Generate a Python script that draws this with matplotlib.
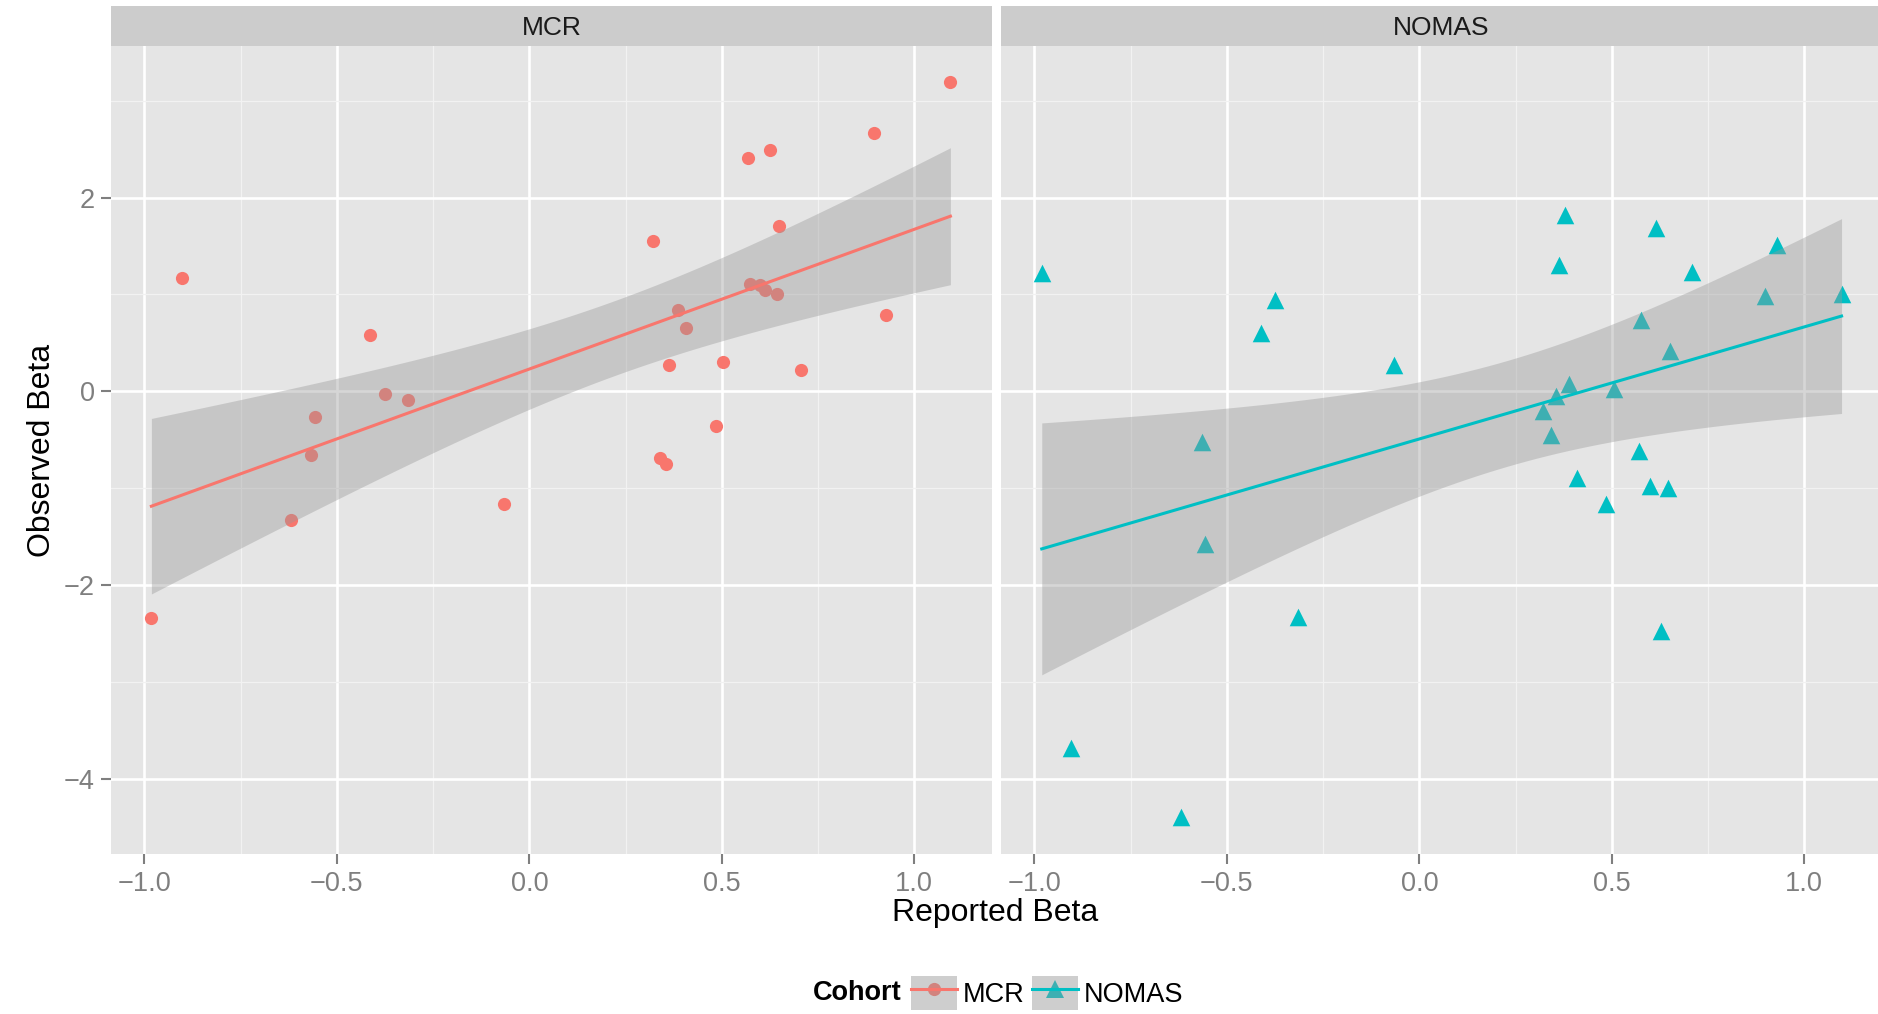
import numpy as np
import matplotlib
matplotlib.use("Agg")
import matplotlib.pyplot as plt
from matplotlib.lines import Line2D
from matplotlib.patches import Rectangle
from matplotlib.legend_handler import HandlerTuple

plt.rcParams['font.family'] = ['Liberation Sans', 'DejaVu Sans']

# reported vs observed beta
mcr_reported = [-0.982, -0.903, -0.619, -0.566, -0.557, -0.414, -0.375, -0.316, -0.067,
                0.320, 0.340, 0.354, 0.362, 0.387, 0.408, 0.484, 0.503, 0.567, 0.574,
                0.598, 0.612, 0.625, 0.644, 0.649, 0.705, 0.896, 0.927, 1.094]
mcr_observed = [-2.34, 1.17, -1.33, -0.66, -0.27, 0.58, -0.03, -0.09, -1.16,
                1.55, -0.69, -0.75, 0.27, 0.84, 0.65, -0.36, 0.30, 2.41, 1.11,
                1.10, 1.05, 2.49, 1.00, 1.71, 0.22, 2.67, 0.79, 3.19]

nomas_reported = [-0.981, -0.905, -0.620, -0.565, -0.556, -0.411, -0.374, -0.316, -0.067,
                  0.321, 0.342, 0.355, 0.363, 0.378, 0.390, 0.410, 0.485, 0.506, 0.570,
                  0.576, 0.599, 0.615, 0.629, 0.647, 0.651, 0.708, 0.898, 0.929, 1.097]
nomas_observed = [1.22, -3.69, -4.40, -0.53, -1.58, 0.60, 0.94, -2.33, 0.27,
                  -0.20, -0.45, -0.05, 1.30, 1.82, 0.07, -0.90, -1.17, 0.02, -0.62,
                  0.73, -0.98, 1.68, -2.48, -1.00, 0.42, 1.23, 0.98, 1.51, 1.00]

cohorts = ['MCR', 'NOMAS']
colors = {'MCR': '#F8766D', 'NOMAS': '#00BFC4'}
markers = {'MCR': 'o', 'NOMAS': '^'}
data = {'MCR': (mcr_reported, mcr_observed), 'NOMAS': (nomas_reported, nomas_observed)}

x_ticks = [-1.0, -0.5, 0.0, 0.5, 1.0]
y_ticks = [-4, -2, 0, 2]

try:
    from scipy import stats
    def t_crit(df):
        return stats.t.ppf(0.975, df)
except ImportError:
    def t_crit(df):
        return 2.05


def lm_band(x, y, n_out=80):
    # same thing geom_smooth(method='lm') does
    x = np.asarray(x)
    y = np.asarray(y)
    slope, icpt = np.polyfit(x, y, 1)
    xs = np.linspace(x.min(), x.max(), n_out)
    fit = icpt + slope * xs
    resid = y - (icpt + slope * x)
    n = len(x)
    s = np.sqrt(np.sum(resid ** 2) / (n - 2))
    se = s * np.sqrt(1 / n + (xs - x.mean()) ** 2 / np.sum((x - x.mean()) ** 2))
    t = t_crit(n - 2)
    return xs, fit, fit - t * se, fit + t * se


fig = plt.figure(figsize=(18.78, 10.14), dpi=100)
ax_w = 0.4687
ax_h = 0.7973
lefts = [0.0593, 0.5332]
bottom = 0.1578

all_y = mcr_observed + nomas_observed
all_x = mcr_reported + nomas_reported
yr = max(all_y) - min(all_y)
xr = max(all_x) - min(all_x)
ylim = (min(all_y) - 0.05 * yr, max(all_y) + 0.05 * yr)
xlim = (min(all_x) - 0.05 * xr, max(all_x) + 0.05 * xr)

for i, name in enumerate(cohorts):
    ax = fig.add_axes([lefts[i], bottom, ax_w, ax_h])
    ax.set_facecolor('#E5E5E5')
    for sp in ax.spines.values():
        sp.set_visible(False)
    ax.set_xlim(xlim)
    ax.set_ylim(ylim)
    ax.set_xticks(x_ticks)
    ax.set_xticks([-0.75, -0.25, 0.25, 0.75], minor=True)
    ax.set_yticks(y_ticks)
    ax.set_yticks([-3, -1, 1, 3], minor=True)
    ax.grid(which='major', color='white', linewidth=1.9)
    ax.grid(which='minor', color='#F2F2F2', linewidth=0.9)
    ax.set_axisbelow(True)
    ax.tick_params(which='minor', length=0)
    ax.tick_params(which='major', color='#7F7F7F', labelcolor='#7F7F7F',
                   labelsize=19.5, length=7, width=1.5, pad=5)
    if i == 1:
        ax.tick_params(axis='y', length=0, labelleft=False)

    x, y = data[name]
    ax.scatter(x, y, s=90 if name == 'MCR' else 160, marker=markers[name],
               color=colors[name], linewidths=0, zorder=2)
    xs, fit, lo, hi = lm_band(x, y)
    ax.fill_between(xs, lo, hi, color='#999999', alpha=0.4, linewidth=0, zorder=3)
    ax.plot(xs, fit, color=colors[name], linewidth=2.2, zorder=4)

    # facet strip
    strip = fig.add_axes([lefts[i], bottom + ax_h, ax_w, 0.039])
    strip.set_facecolor('#CCCCCC')
    strip.set_xticks([])
    strip.set_yticks([])
    for sp in strip.spines.values():
        sp.set_visible(False)
    strip.text(0.5, 0.45, name, ha='center', va='center', fontsize=19,
               color='#1A1A1A', transform=strip.transAxes)

fig.text(995 / 1878, 1 - 913 / 1014, 'Reported Beta', ha='center', va='center', fontsize=23)
fig.text(42 / 1878, 1 - 450 / 1014, 'Observed Beta', ha='center', va='center',
         rotation=90, fontsize=23)

# legend at the bottom, ggplot style keys
fig.text(813 / 1878, 1 - 993 / 1014, 'Cohort', ha='left', va='center',
         fontsize=19.5, fontweight='bold')
handles = []
for name in cohorts:
    bg = Rectangle((0, 0), 1, 1, facecolor='#F2F2F2', edgecolor='none')
    pt = Line2D([], [], linestyle='none', marker=markers[name], color=colors[name],
                markersize=9.5 if name == 'MCR' else 12.5, markeredgewidth=0)
    fill = Rectangle((0, 0), 1, 1, facecolor='#999999', alpha=0.4, edgecolor='none')
    ln = Line2D([], [], color=colors[name], linewidth=2.2)
    handles.append((bg, pt, fill, ln))
fig.legend(handles, cohorts, handler_map={tuple: HandlerTuple(ndivide=1, pad=0)},
           ncol=2, frameon=False, fontsize=19.5, loc='center left',
           bbox_to_anchor=(911 / 1878, 1 - 993 / 1014), borderpad=0, borderaxespad=0,
           handlelength=1.7, handleheight=1.6, handletextpad=0.22, columnspacing=0.25)

fig.savefig('out.png', dpi=100)
